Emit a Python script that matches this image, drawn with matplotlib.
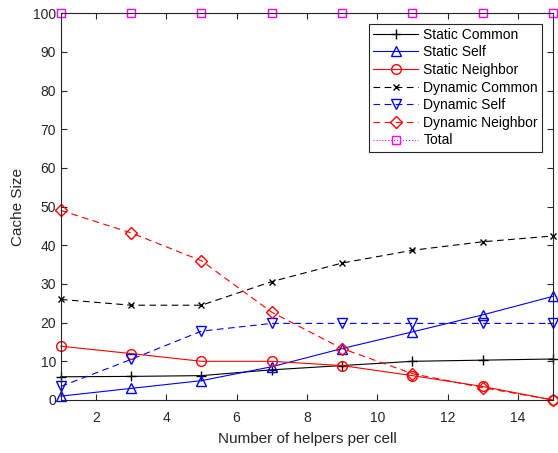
import matplotlib.pyplot as plt

plt.rcParams['font.family'] = ['Liberation Sans', 'DejaVu Sans']

helpers = [1, 3, 5, 7, 9, 11, 13, 15]
static_common = [6.0, 6.1, 6.3, 7.8, 8.9, 10.0, 10.3, 10.6]
static_self = [1.0, 3.0, 5.0, 8.6, 13.3, 17.6, 22.0, 26.8]
static_neighbor = [13.9, 12.0, 10.0, 10.0, 8.9, 6.3, 3.5, 0.0]
dynamic_common = [26.0, 24.5, 24.5, 30.6, 35.4, 38.7, 40.9, 42.4]
dynamic_self = [3.5, 10.5, 17.8, 19.8, 19.8, 19.8, 19.8, 19.8]
dynamic_neighbor = [49.0, 43.2, 36.0, 22.7, 13.3, 6.8, 3.2, 0.0]
total = [100, 100, 100, 100, 100, 100, 100, 100]

fig = plt.figure(figsize=(5.58, 4.53), dpi=100)
ax = fig.add_axes([0.109, 0.117, 0.882, 0.854])

lw = 0.8
ms = 7
dash = (0, (6, 4))
common = dict(lw=lw, clip_on=False)
ax.plot(helpers, static_common, color='black', marker='+', linestyle='-', ms=ms, label='Static Common', **common)
ax.plot(helpers, static_self, color='blue', marker='^', linestyle='-', ms=ms, mfc='none', label='Static Self', **common)
ax.plot(helpers, static_neighbor, color='red', marker='o', linestyle='-', ms=ms, mfc='none', label='Static Neighbor', **common)
ax.plot(helpers, dynamic_common, color='black', marker='x', linestyle=dash, ms=5, label='Dynamic Common', **common)
ax.plot(helpers, dynamic_self, color='blue', marker='v', linestyle=dash, ms=ms, mfc='none', label='Dynamic Self', **common)
ax.plot(helpers, dynamic_neighbor, color='red', marker='D', linestyle=dash, ms=6, mfc='none', label='Dynamic Neighbor', **common)
ax.plot(helpers, total, color='magenta', marker='s', linestyle=':', ms=6, mfc='none', label='Total', **common)

ax.set_xlim(1, 15)
ax.set_ylim(0, 100)
ax.set_xticks([2, 4, 6, 8, 10, 12, 14])
ax.set_yticks(range(0, 101, 10))
ax.tick_params(direction='in', top=True, right=True, labelsize=10, length=4, width=0.8, colors='#262626')
ax.tick_params(axis='x', pad=8)
for s in ax.spines.values():
    s.set_linewidth(0.8)
    s.set_color('#262626')

ax.set_xlabel('Number of helpers per cell', fontsize=11, color='#262626', labelpad=5)
ax.set_ylabel('Cache Size', fontsize=11, color='#262626', labelpad=6)

leg = ax.legend(loc='upper right', bbox_to_anchor=(0.978, 0.973), fontsize=10, fancybox=False,
                edgecolor='#262626', framealpha=1, handlelength=3.2, borderpad=0.3,
                labelspacing=0.26, handletextpad=0.4, borderaxespad=0.0)
leg.get_frame().set_linewidth(0.8)

fig.savefig('out.png', dpi=100)
